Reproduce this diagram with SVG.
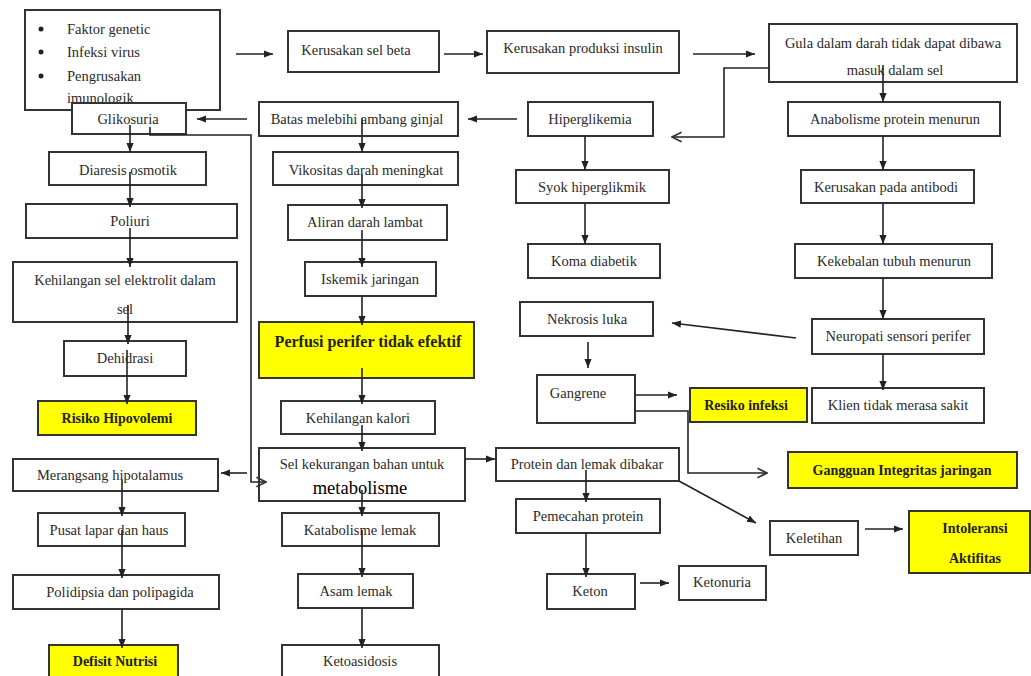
<svg xmlns="http://www.w3.org/2000/svg" width="1031" height="676" viewBox="0 0 1031 676">
<defs>
<style>
.b{fill:#fff;stroke:#333;stroke-width:2}
.y{fill:#ffff00;stroke:#333;stroke-width:2}
.t{font-family:"Liberation Serif","Times New Roman",serif;font-size:14.5px;fill:#2a2a2a;text-anchor:middle}
.tb{font-family:"Liberation Serif","Times New Roman",serif;font-size:14px;font-weight:bold;fill:#222;text-anchor:middle}
.tl{font-family:"Liberation Serif","Times New Roman",serif;font-size:14.5px;fill:#2a2a2a}
.c{fill:none;stroke:#222;stroke-width:1.6}
.a{marker-end:url(#ah)}
.o{marker-end:url(#oa)}
</style>
<marker id="ah" viewBox="0 0 10 10" refX="10" refY="5" markerWidth="9" markerHeight="9" markerUnits="userSpaceOnUse" orient="auto"><path d="M0,1 L10,5 L0,9 z" fill="#222"/></marker>
<marker id="oa" viewBox="0 0 10 10" refX="9" refY="5" markerWidth="12" markerHeight="12" markerUnits="userSpaceOnUse" orient="auto"><path d="M1,1 L9,5 L1,9" fill="none" stroke="#333" stroke-width="1.4"/></marker>
</defs>
<rect width="1031" height="676" fill="#fff"/>

<g id="factors"><rect class="b" x="25" y="10" width="195" height="100"/>
<circle cx="41" cy="29" r="2.5" fill="#222"/><circle cx="41" cy="52" r="2.5" fill="#222"/><circle cx="41" cy="76" r="2.5" fill="#222"/>
<text class="tl" x="67" y="34">Faktor genetic</text><text class="tl" x="67" y="57">Infeksi virus</text><text class="tl" x="67" y="81">Pengrusakan</text><text class="tl" x="67" y="103">imunologik</text></g>
<g id="gliko"><rect class="b" x="72" y="103" width="114" height="31"/><text class="t" x="128" y="124">Glikosuria</text></g>
<g id="beta"><rect class="b" x="288" y="31" width="151" height="41"/><text class="t" x="356" y="55">Kerusakan sel beta</text></g>
<g id="insulin"><rect class="b" x="487" y="31" width="192" height="42"/><text class="t" x="583" y="53">Kerusakan produksi insulin</text></g>
<g id="gula"><rect class="b" x="769" y="24" width="248" height="58"/><text class="t" x="893" y="48">Gula dalam darah tidak dapat dibawa</text><text class="t" x="895" y="75">masuk dalam sel</text></g>
<g id="batas"><rect class="b" x="259" y="102" width="199" height="34"/><text class="t" x="357" y="124">Batas melebihi ambang ginjal</text></g>
<g id="hiper"><rect class="b" x="528" y="102" width="125" height="34"/><text class="t" x="590" y="124">Hiperglikemia</text></g>
<g id="anabol"><rect class="b" x="788" y="102" width="212" height="34"/><text class="t" x="895" y="124">Anabolisme protein menurun</text></g>
<g id="diaresis"><rect class="b" x="49" y="152" width="157" height="33"/><text class="t" x="128" y="175">Diaresis osmotik</text></g>
<g id="vikos"><rect class="b" x="273" y="152" width="185" height="33"/><text class="t" x="366" y="175">Vikositas darah meningkat</text></g>
<g id="syok"><rect class="b" x="516" y="170" width="153" height="33"/><text class="t" x="592" y="192">Syok hiperglikmik</text></g>
<g id="antibodi"><rect class="b" x="801" y="170" width="173" height="33"/><text class="t" x="886" y="192">Kerusakan pada antibodi</text></g>
<g id="poliuri"><rect class="b" x="26" y="204" width="211" height="34"/><text class="t" x="130" y="226">Poliuri</text></g>
<g id="aliran"><rect class="b" x="288" y="205" width="159" height="35"/><text class="t" x="365" y="227">Aliran darah lambat</text></g>
<g id="koma"><rect class="b" x="528" y="244" width="132" height="34"/><text class="t" x="594" y="266">Koma diabetik</text></g>
<g id="kekebalan"><rect class="b" x="795" y="244" width="197" height="34"/><text class="t" x="894" y="266">Kekebalan tubuh menurun</text></g>
<g id="elektrolit"><rect class="b" x="13" y="262" width="224" height="60"/><text class="t" x="125" y="285">Kehilangan sel elektrolit dalam</text><text class="t" x="125" y="314">sel</text></g>
<g id="iskemik"><rect class="b" x="305" y="262" width="131" height="34"/><text class="t" x="370" y="284">Iskemik jaringan</text></g>
<g id="nekrosis"><rect class="b" x="520" y="302" width="133" height="34"/><text class="t" x="587" y="324">Nekrosis luka</text></g>
<g id="neuropati"><rect class="b" x="812" y="319" width="172" height="35"/><text class="t" x="898" y="341">Neuropati sensori perifer</text></g>
<g id="perfusi"><rect class="y" x="259" y="322" width="215" height="56"/><text class="tb" style="font-size:16px" x="368" y="347">Perfusi perifer tidak efektif</text></g>
<g id="dehidrasi"><rect class="b" x="64" y="341" width="122" height="35"/><text class="t" x="125" y="363">Dehidrasi</text></g>
<g id="gangrene"><rect class="b" x="537" y="375" width="98" height="48"/><text class="t" x="578" y="398">Gangrene</text></g>
<g id="hipovolemi"><rect class="y" x="38" y="401" width="158" height="34"/><text class="tb" x="117" y="423">Risiko Hipovolemi</text></g>
<g id="infeksi"><rect class="y" x="690" y="388" width="117" height="34"/><text class="tb" x="746" y="410">Resiko infeksi</text></g>
<g id="klien"><rect class="b" x="812" y="388" width="172" height="35"/><text class="t" x="898" y="410">Klien tidak merasa sakit</text></g>
<g id="kalori"><rect class="b" x="281" y="401" width="154" height="33"/><text class="t" x="358" y="423">Kehilangan kalori</text></g>
<g id="merangsang"><rect class="b" x="13" y="459" width="205" height="32"/><text class="t" x="110" y="480">Merangsang hipotalamus</text></g>
<g id="sel"><rect class="b" x="259" y="448" width="206" height="53"/><text class="t" x="362" y="469">Sel kekurangan bahan untuk</text><text x="360" y="494" style="font-family:'Liberation Serif','Times New Roman',serif;font-size:18.5px;fill:#000;text-anchor:middle">metabolisme</text></g>
<g id="protein"><rect class="b" x="496" y="448" width="183" height="33"/><text class="t" x="587" y="469">Protein dan lemak dibakar</text></g>
<g id="gangguan"><rect class="y" x="788" y="452" width="229" height="36"/><text class="tb" x="902" y="475">Gangguan Integritas jaringan</text></g>
<g id="pusat"><rect class="b" x="38" y="513" width="147" height="33"/><text class="t" x="109" y="535">Pusat lapar dan haus</text></g>
<g id="katabol"><rect class="b" x="282" y="513" width="157" height="33"/><text class="t" x="360" y="535">Katabolisme lemak</text></g>
<g id="pemecahan"><rect class="b" x="516" y="499" width="144" height="34"/><text class="t" x="588" y="521">Pemecahan protein</text></g>
<g id="keletihan"><rect class="b" x="770" y="521" width="88" height="34"/><text class="t" x="814" y="543">Keletihan</text></g>
<g id="intoleransi"><rect class="y" x="909" y="511" width="121" height="62"/><text class="tb" x="975" y="533">Intoleransi</text><text class="tb" x="975" y="563">Aktifitas</text></g>
<g id="polidipsia"><rect class="b" x="13" y="575" width="206" height="34"/><text class="t" x="120" y="597">Polidipsia dan polipagida</text></g>
<g id="asam"><rect class="b" x="298" y="574" width="115" height="34"/><text class="t" x="356" y="596">Asam lemak</text></g>
<g id="keton"><rect class="b" x="547" y="574" width="88" height="35"/><text class="t" x="590" y="596">Keton</text></g>
<g id="ketonuria"><rect class="b" x="679" y="566" width="87" height="34"/><text class="t" x="722" y="587">Ketonuria</text></g>
<g id="defisit"><rect class="y" x="49" y="645" width="129" height="40"/><text class="tb" x="115" y="666">Defisit Nutrisi</text></g>
<g id="ketoasidosis"><rect class="b" x="282" y="645" width="157" height="40"/><text class="t" x="360" y="666">Ketoasidosis</text></g>

<g id="connectors">
<line class="c a" x1="236" y1="54" x2="273" y2="54"/>
<line class="c a" x1="444" y1="54" x2="483" y2="54"/>
<line class="c a" x1="693" y1="54" x2="755" y2="54"/>
<polyline class="c o" points="769,68 724,68 724,137 672,137"/>
<line class="c a" x1="883" y1="65" x2="883" y2="102"/>
<line class="c a" x1="247" y1="119" x2="197" y2="119"/>
<line class="c a" x1="517" y1="119" x2="468" y2="119"/>
<line class="c a" x1="130" y1="125" x2="130" y2="152"/>
<line class="c a" x1="362" y1="118" x2="362" y2="152"/>
<line class="c a" x1="585" y1="136" x2="585" y2="170"/>
<line class="c a" x1="883" y1="136" x2="883" y2="170"/>
<line class="c a" x1="130" y1="172" x2="130" y2="207"/>
<line class="c a" x1="362" y1="175" x2="362" y2="208"/>
<line class="c a" x1="585" y1="203" x2="585" y2="244"/>
<line class="c a" x1="883" y1="203" x2="883" y2="244"/>
<line class="c a" x1="130" y1="228" x2="130" y2="267"/>
<line class="c a" x1="362" y1="230" x2="362" y2="267"/>
<line class="c a" x1="883" y1="278" x2="883" y2="319"/>
<line class="c a" x1="796" y1="338" x2="672" y2="323"/>
<line class="c a" x1="128" y1="305" x2="128" y2="344"/>
<line class="c a" x1="362" y1="296" x2="362" y2="325"/>
<line class="c a" x1="588" y1="342" x2="588" y2="368"/>
<line class="c a" x1="127" y1="350" x2="127" y2="404"/>
<line class="c a" x1="362" y1="368" x2="362" y2="404"/>
<line class="c a" x1="883" y1="354" x2="883" y2="390"/>
<line class="c a" x1="635" y1="395" x2="677" y2="395"/>
<polyline class="c o" points="635,411 688,411 688,473 767,473"/>
<line class="c a" x1="362" y1="425" x2="362" y2="451"/>
<polyline class="c o" points="150,127 150,135 251,135 251,482 266,482"/>
<line class="c a" x1="247" y1="473" x2="221" y2="473"/>
<line class="c a" x1="466" y1="459" x2="495" y2="459"/>
<line class="c a" x1="679" y1="481" x2="756" y2="523"/>
<line class="c a" x1="122" y1="480" x2="122" y2="516"/>
<line class="c a" x1="362" y1="490" x2="362" y2="516"/>
<line class="c a" x1="586" y1="470" x2="586" y2="502"/>
<line class="c a" x1="865" y1="529" x2="903" y2="529"/>
<line class="c a" x1="122" y1="530" x2="122" y2="578"/>
<line class="c a" x1="362" y1="530" x2="362" y2="577"/>
<line class="c a" x1="586" y1="533" x2="586" y2="577"/>
<line class="c a" x1="640" y1="583" x2="669" y2="583"/>
<line class="c a" x1="122" y1="609" x2="122" y2="648"/>
<line class="c a" x1="362" y1="608" x2="362" y2="648"/>
</g>
</svg>
